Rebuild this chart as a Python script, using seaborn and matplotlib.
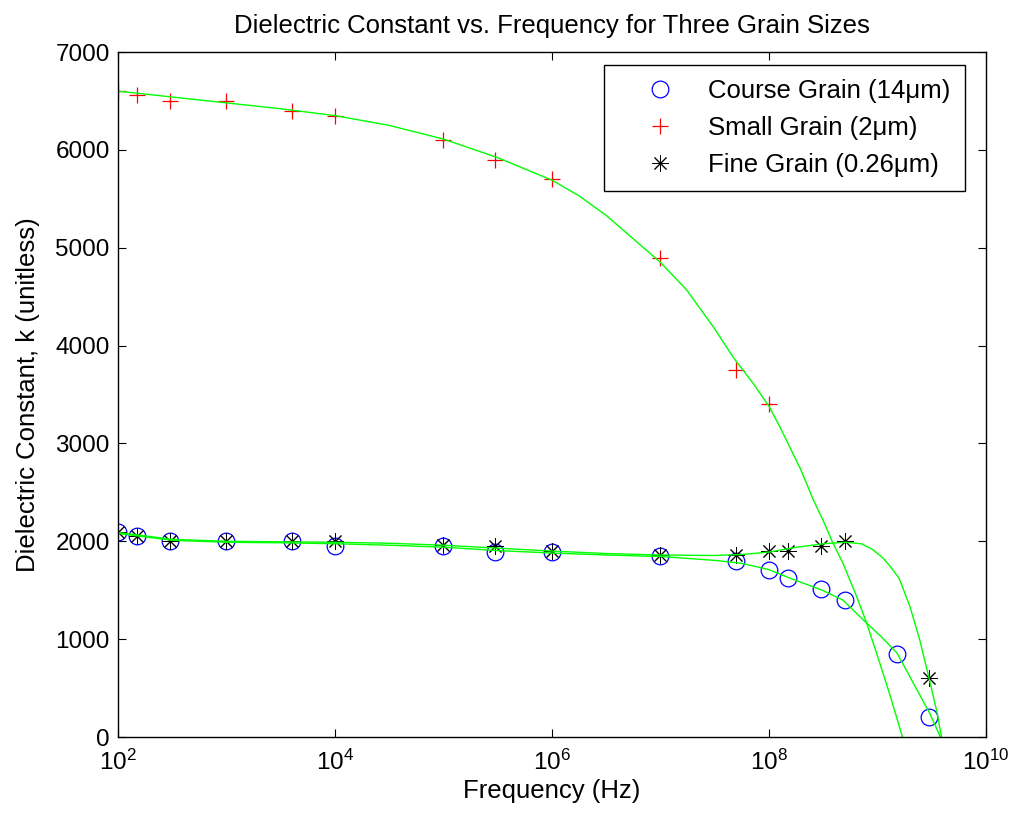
"""Dielectric constant vs. frequency for three grain sizes (re-drawn in seaborn)."""

import matplotlib

matplotlib.use("Agg")
import matplotlib.pyplot as plt
import numpy as np
import pandas as pd
import seaborn as sns
from matplotlib.ticker import FixedLocator, NullLocator, MultipleLocator

# measured points (Hz, unitless k)
freq_hz = [1e2, 1.5e2, 3e2, 1e3, 4e3, 1e4, 1e5, 3e5, 1e6, 1e7, 5e7, 1e8,
           1.5e8, 3e8, 5e8, 1.5e9, 3e9]
course_k = [2100, 2050, 2000, 2000, 2000, 1950, 1950, 1890, 1890, 1850, 1800,
            1710, 1620, 1510, 1400, 850, 200]

small_freq = [1e2, 1.5e2, 3e2, 1e3, 4e3, 1e4, 1e5, 3e5, 1e6, 1e7, 5e7, 1e8]
small_k = [6600, 6560, 6500, 6500, 6400, 6350, 6100, 5900, 5700, 4900, 3750, 3400]

fine_freq = [1e2, 1.5e2, 3e2, 1e3, 4e3, 1e4, 1e5, 3e5, 1e6, 1e7, 5e7, 1e8,
             1.5e8, 3e8, 5e8, 3e9]
fine_k = [2100, 2050, 2000, 2000, 2000, 2000, 1960, 1950, 1900, 1860, 1860,
          1900, 1900, 1950, 2000, 600]

# green fit curves (log10 of Hz, k)
small_fit_logf = [2.0, 2.5, 3.0, 3.5, 4.0, 4.5, 5.0, 5.5, 6.0, 6.25, 6.5, 6.75,
                  7.0, 7.24, 7.5, 7.67, 7.85, 8.0, 8.1, 8.29, 8.41, 8.5, 8.59,
                  8.68, 8.81, 8.9, 9.02, 9.12, 9.23]
small_fit_k = [6600, 6540, 6480, 6420, 6350, 6250, 6110, 5920, 5690, 5530, 5330,
               5090, 4850, 4570, 4170, 3880, 3620, 3380, 3170, 2740, 2420, 2210,
               1980, 1780, 1430, 1165, 760, 410, 0]

course_fit_logf = [2.0, 2.5, 3.0, 3.5, 4.0, 4.5, 5.0, 5.5, 6.0, 6.5, 7.0, 7.5,
                   7.75, 8.0, 8.19, 8.49, 8.68, 8.87, 9.03, 9.18, 9.33, 9.48, 9.58]
course_fit_k = [2080, 2010, 1990, 1985, 1975, 1960, 1940, 1905, 1880, 1860, 1845,
                1805, 1775, 1710, 1625, 1500, 1400, 1196, 1030, 858, 552, 245, 0]

fine_fit_logf = [2.0, 2.5, 3.0, 3.5, 4.0, 4.5, 5.0, 5.5, 6.0, 6.5, 7.0, 7.5,
                 7.75, 8.0, 8.26, 8.5, 8.7, 8.85, 8.95, 9.05, 9.12, 9.2, 9.3,
                 9.39, 9.48, 9.55, 9.59]
fine_fit_k = [2090, 2020, 2000, 1995, 1990, 1980, 1960, 1930, 1900, 1875, 1860,
              1855, 1865, 1890, 1940, 1975, 1990, 1975, 1920, 1830, 1740, 1620,
              1330, 990, 580, 245, 0]

x_ticks = [1e2, 1e4, 1e6, 1e8, 1e10]

labels = ["Course Grain (14μm)", "Small Grain (2μm)", "Fine Grain (0.26μm)"]


def _frame(x, y):
    return pd.DataFrame({"f": x, "k": y})


def main() -> None:
    sns.set_theme(style="white")
    plt.rcParams["font.family"] = ["Liberation Sans", "DejaVu Sans"]
    plt.rcParams["font.size"] = 18
    plt.rcParams["text.color"] = "black"
    plt.rcParams["axes.labelcolor"] = "black"

    fig = plt.figure(figsize=(10.12, 8.19), dpi=100)
    ax = fig.add_axes([0.1166, 0.1001, 0.8577, 0.8364])

    # markers (seaborn defaults marker edges to white, so set them)
    common = {"estimator": None, "sort": False, "linestyle": "none", "ax": ax}
    sns.lineplot(data=_frame(freq_hz, course_k), x="f", y="k", marker="o",
                 markersize=12, markerfacecolor="none", markeredgecolor="blue",
                 markeredgewidth=0.9, color="blue", **common)
    sns.lineplot(data=_frame(small_freq, small_k), x="f", y="k", marker="+",
                 markersize=12, markeredgewidth=0.9, markeredgecolor="red",
                 color="red", **common)
    sns.lineplot(data=_frame(fine_freq, fine_k), x="f", y="k", marker=(8, 2, 0),
                 markersize=12, markeredgewidth=0.7, markeredgecolor="black",
                 color="black", **common)
    handles = list(ax.lines)

    # fitted curves
    for logf, kv in [(course_fit_logf, course_fit_k),
                     (small_fit_logf, small_fit_k),
                     (fine_fit_logf, fine_fit_k)]:
        sns.lineplot(data=_frame(np.power(10.0, logf), kv), x="f", y="k",
                     estimator=None, sort=False, color="#00ff00", linewidth=1.0,
                     ax=ax)

    ax.set_xscale("log")
    ax.set_xlim(1e2, 1e10)
    ax.set_ylim(0, 7000)
    ax.xaxis.set_major_locator(FixedLocator(x_ticks))
    ax.xaxis.set_minor_locator(NullLocator())
    ax.yaxis.set_major_locator(MultipleLocator(1000))

    ax.tick_params(direction="in", length=6, width=0.8, top=True, right=True,
                   bottom=True, left=True, labelsize=17.5, color="black",
                   labelcolor="black")
    ax.tick_params(axis="x", pad=9)
    ax.tick_params(axis="y", pad=6)
    for spine in ax.spines.values():
        spine.set_color("black")
        spine.set_linewidth(1.0)

    ax.set_title("Dielectric Constant vs. Frequency for Three Grain Sizes",
                 fontsize=18.5, pad=14, color="black")
    ax.set_xlabel("Frequency (Hz)", fontsize=18.5, labelpad=3)
    ax.set_ylabel("Dielectric Constant, k (unitless)", fontsize=18.5, labelpad=11)

    leg = ax.legend(handles, labels, loc="upper right",
                    bbox_to_anchor=(0.9758, 0.981), borderaxespad=0,
                    fancybox=False, framealpha=1, edgecolor="black",
                    fontsize=18.5, handlelength=3.2, labelspacing=0.5,
                    borderpad=0.55, handletextpad=0.3)
    leg.get_frame().set_linewidth(1.0)

    fig.savefig("out.png", dpi=100)
    plt.close(fig)


if __name__ == "__main__":
    main()
